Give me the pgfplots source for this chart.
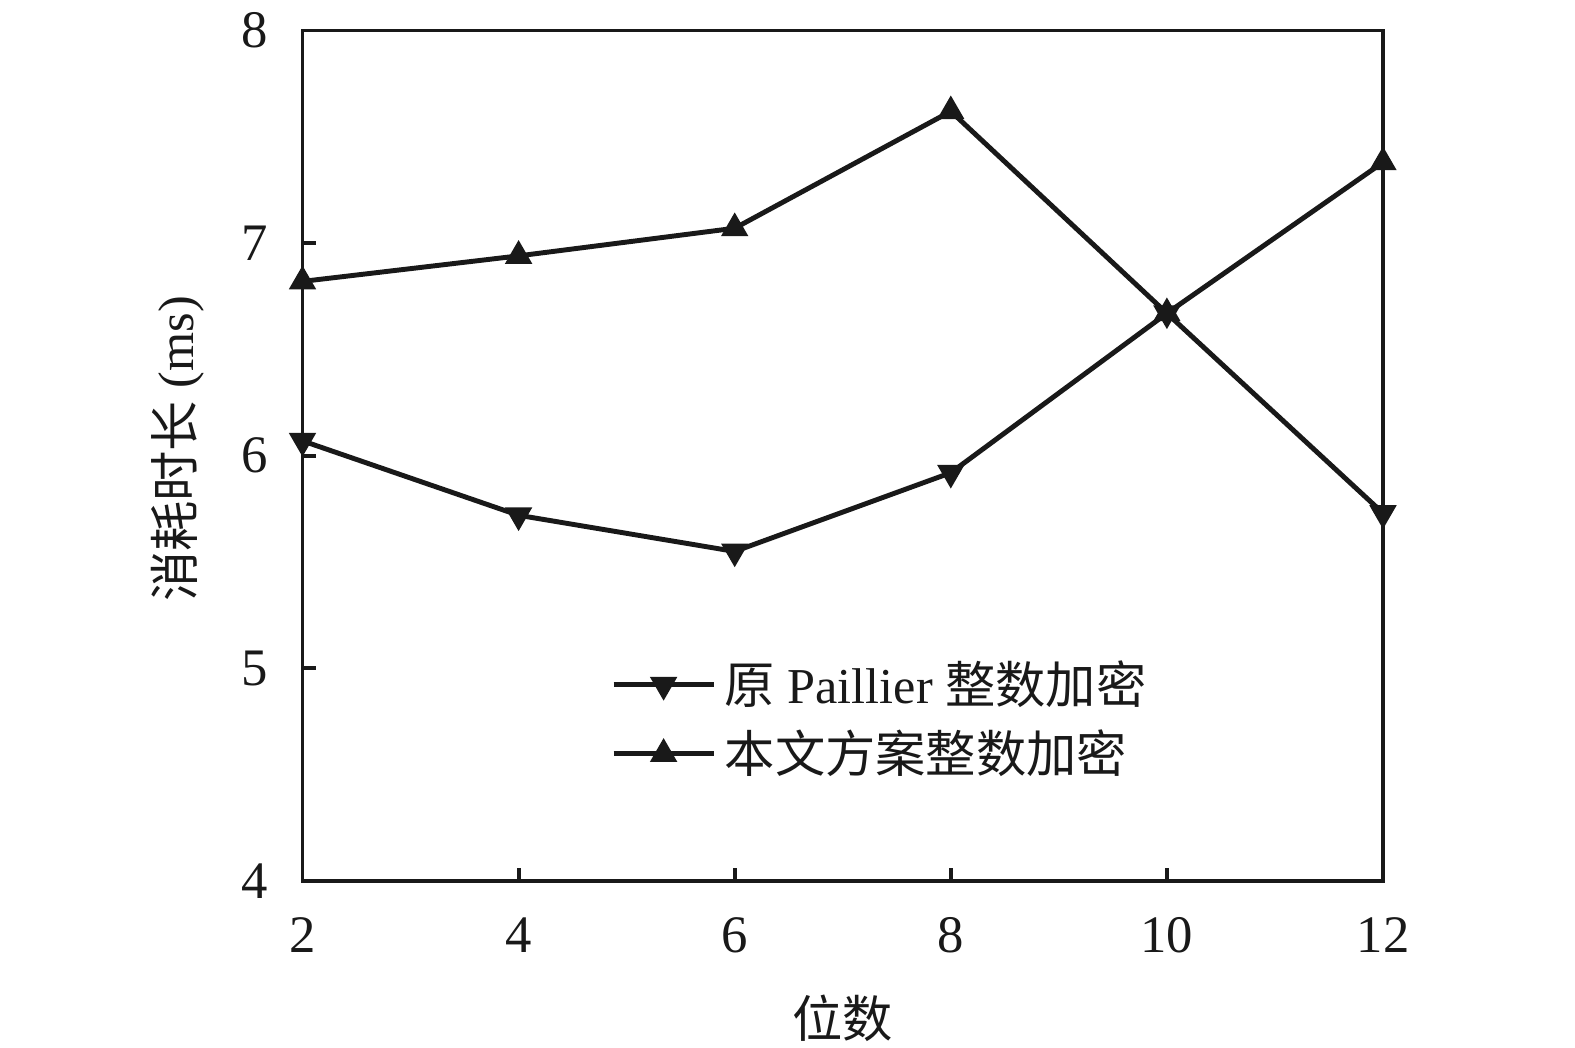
\documentclass[border=0pt]{standalone}
\usepackage{fontspec}
\setmainfont{Liberation Serif}
\newfontfamily\cjk{Noto Sans CJK SC}
\usepackage{pgfplots}
\pgfplotsset{compat=1.18}
\begin{document}
\begin{tikzpicture}
\useasboundingbox (0,0) rectangle (15.75cm,10.48cm);
\begin{axis}[
  at={(3.025cm,1.67cm)}, anchor=south west,
  scale only axis, width=10.805cm, height=8.505cm,
  xmin=2, xmax=12, ymin=4, ymax=8,
  xtick={2,4,6,8,10,12}, ytick={4,5,6,7,8},
  tick align=inside, xtick pos=bottom, ytick pos=left,
  major tick length=0.13cm,
  axis line style={line width=1.1pt, black!90},
  every tick/.style={line width=1.1pt, black!90},
  /pgf/number format/assume math mode=true,
  tick label style={font=\fontsize{15}{18}\selectfont, text=black!90},
  yticklabel style={xshift=-0.22cm},
  xticklabel style={yshift=-0.24cm},
  xlabel={\cjk 位数},
  ylabel={{\cjk 消耗时长} (ms)},
  every axis x label/.style={at={(axis description cs:0.5,-0.161)}, anchor=center,
    font=\fontsize{14.3}{17}\selectfont, text=black!90},
  every axis y label/.style={at={(axis description cs:-0.1157,0.508)}, anchor=center, rotate=90,
    font=\fontsize{14.3}{17}\selectfont, text=black!90},
  clip=false,
  legend cell align=left,
  legend style={at={(axis description cs:0.285,0.19)}, anchor=west, draw=none, fill=none,
    font=\fontsize{14.3}{17}\selectfont, text=black!90, row sep=2pt, inner sep=0pt,
    column sep=0.5pt},
  legend image code/.code={
    \draw[#1, mark repeat=2, mark phase=2] plot coordinates {(0cm,0cm) (0.5cm,0cm) (1cm,0cm)};
  },
]
\addplot[black!90, line width=1.4pt, mark=triangle*, mark size=4pt,
  mark options={rotate=180, fill=black!90, line width=0.5pt}]
  coordinates {(2,6.07) (4,5.72) (6,5.55) (8,5.92) (10,6.67) (12,5.73)};
\addlegendentry{{\cjk 原} Paillier {\cjk 整数加密}}
\addplot[black!90, line width=1.4pt, mark=triangle*, mark size=4pt,
  mark options={fill=black!90, line width=0.5pt}]
  coordinates {(2,6.82) (4,6.94) (6,7.07) (8,7.62) (10,6.67) (12,7.38)};
\addlegendentry{\cjk 本文方案整数加密}
\end{axis}
\end{tikzpicture}
\end{document}
